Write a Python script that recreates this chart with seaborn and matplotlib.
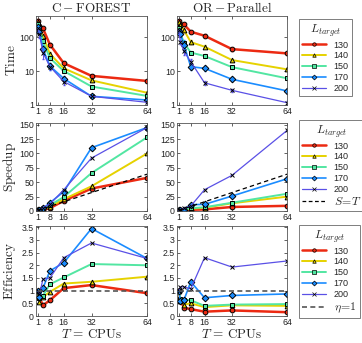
import matplotlib
matplotlib.use("Agg")
import matplotlib.pyplot as plt
import seaborn as sns
from matplotlib.lines import Line2D

# CPU counts and target path lengths
cpus = [1, 2, 4, 8, 16, 32, 64]
targets = ["130", "140", "150", "170", "200"]

# C-FOREST: run time (mean and spread), speedup, efficiency
cf_time = {
    "130": [300, 215, 180, 60, 17, 7.2, 5.1],
    "140": [270, 200, 110, 32, 12, 5.3, 2.3],
    "150": [240, 170, 75, 24, 10, 3.5, 1.85],
    "170": [200, 140, 45, 14, 6, 1.8, 1.4],
    "200": [180, 120, 35, 13.5, 4.9, 1.8, 1.2],
}
cf_err = {
    "130": [30, 20, 15, 6, 1.5, 0.6, 0.4],
    "140": [25, 20, 12, 4, 1.2, 0.5, 0.2],
    "150": [25, 20, 10, 3, 1.0, 0.3, 0.15],
    "170": [20, 20, 12, 3, 1.2, 0.2, 0.12],
    "200": [20, 25, 12, 3, 1.0, 0.2, 0.1],
}
cf_speedup = {
    "130": [1, 1.4, 1.7, 5, 17.6, 39, 57.6],
    "140": [1, 1.1, 3, 7.6, 20.5, 43, 100],
    "150": [1, 1.4, 3.2, 10, 24.3, 66, 128],
    "170": [1, 1.5, 4.4, 14.2, 33.6, 110, 145],
    "200": [1, 1.7, 5.8, 12, 36.8, 92, 145],
}
cf_eff = {
    "130": [1, 0.72, 0.42, 0.62, 1.1, 1.22, 0.9],
    "140": [1, 0.55, 0.75, 0.95, 1.28, 1.35, 1.55],
    "150": [1, 0.7, 0.8, 1.25, 1.52, 2.05, 2.0],
    "170": [1, 0.75, 1.1, 1.78, 2.1, 3.45, 2.27],
    "200": [1, 0.85, 1.45, 1.5, 2.3, 2.88, 2.27],
}

# OR-Parallel: run time (mean and spread), speedup, efficiency
orp_time = {
    "130": [300, 240, 235, 143, 109, 44, 33],
    "140": [270, 230, 160, 71, 52, 21, 11.2],
    "150": [180, 130, 68, 35, 27.6, 13, 6.1],
    "170": [150, 120, 60, 13.4, 12, 5.7, 2.6],
    "200": [165, 72, 38, 18.8, 4.5, 2.7, 1.17],
}
orp_err = {
    "130": [25, 20, 20, 12, 10, 4, 3],
    "140": [25, 20, 15, 8, 5, 2, 1],
    "150": [20, 15, 8, 4, 3, 1.2, 0.5],
    "170": [15, 15, 20, 3, 2, 0.7, 0.3],
    "200": [15, 10, 8, 4, 0.6, 0.3, 0.12],
}
orp_speedup = {
    "130": [1, 1.25, 1.3, 2.1, 2.75, 7, 9],
    "140": [1, 1.2, 1.8, 4, 5.6, 13.4, 25],
    "150": [1, 1.35, 2.6, 5, 6.5, 14.4, 30],
    "170": [1, 1.25, 2.5, 11, 11.5, 26, 56],
    "200": [1, 2.3, 4.6, 8.6, 37, 62, 140],
}
orp_eff = {
    "130": [1, 0.62, 0.33, 0.27, 0.17, 0.22, 0.15],
    "140": [1, 0.6, 0.45, 0.5, 0.35, 0.42, 0.4],
    "150": [1, 0.68, 0.65, 0.62, 0.4, 0.45, 0.47],
    "170": [1, 0.6, 0.62, 1.35, 0.72, 0.81, 0.87],
    "200": [1, 1.15, 1.15, 1.07, 2.3, 1.93, 2.17],
}

# ideal references
ideal_cpus = [1, 64]
ideal_speedup = [1, 64]
ideal_eff = [1, 1]

colors = {"130": "#ec2a12", "140": "#e6d200", "150": "#52e6a2",
          "170": "#1a8cff", "200": "#5a50e6"}
markers = {"130": "o", "140": "^", "150": "s", "170": "D", "200": "x"}
widths = {"130": 1.8, "140": 1.4, "150": 1.4, "170": 1.2, "200": 0.9}

sns.set_style("ticks")
plt.rcParams["font.family"] = ["Liberation Sans", "DejaVu Sans"]
plt.rcParams["mathtext.fontset"] = "cm"
plt.rcParams["xtick.direction"] = "in"
plt.rcParams["ytick.direction"] = "in"
plt.rcParams["xtick.top"] = True
plt.rcParams["ytick.right"] = True

fig = plt.figure(figsize=(3.62, 3.43), dpi=100)

col_left = [36 / 362, 177 / 362]
col_w = [111 / 362, 110 / 362]
row_bottom = [1 - 105 / 343, 1 - 211 / 343, 1 - 316 / 343]
row_h = [89 / 343, 88 / 343, 90 / 343]

panels = [
    [(cf_time, cf_err), (orp_time, orp_err)],
    [(cf_speedup, None), (orp_speedup, None)],
    [(cf_eff, None), (orp_eff, None)],
]

legend_tops = [1 - 19 / 343, 1 - 120 / 343, 1 - 225 / 343]

for r in range(3):
    for c in range(2):
        ax = fig.add_axes([col_left[c], row_bottom[r], col_w[c], row_h[r]])
        data, err = panels[r][c]
        for k in targets:
            if err is not None:
                ax.errorbar(cpus, data[k], yerr=err[k], fmt="none",
                            ecolor=colors[k], elinewidth=0.7, capsize=0.8,
                            zorder=1)
            sns.lineplot(x=cpus, y=data[k], color=colors[k],
                         marker=markers[k], lw=widths[k], markersize=3.4,
                         markeredgecolor="k", markeredgewidth=0.7,
                         ax=ax, zorder=2)
        if r == 1:
            ax.plot(ideal_cpus, ideal_speedup, ls=(0, (3.5, 2.5)), color="k",
                    lw=0.9, zorder=3)
        if r == 2:
            ax.plot(ideal_cpus, ideal_eff, ls=(0, (3, 2)), color="#555555",
                    lw=1.2, zorder=3)

        ax.set_xlim(0, 64)
        ax.set_xticks([1, 8, 16, 32, 64])
        ax.set_xticklabels(["1", "8", "16", "32", "64"])
        if r == 0:
            ax.set_yscale("log")
            ax.set_ylim(1, 415)
            ax.set_yticks([1, 10, 100])
            ax.set_yticklabels(["1", "10", "100"])
            ax.minorticks_off()
        elif r == 1:
            ax.set_ylim(0, 153)
            ax.set_yticks([0, 25, 50, 75, 100, 125, 150])
            ax.set_yticklabels(["0", "25", "50", "75", "100", "125", "150"])
        else:
            ax.set_ylim(0, 3.55)
            ax.set_yticks([0, 0.5, 1, 1.5, 2, 2.5, 3, 3.5])
            ax.set_yticklabels(["0", "0.5", "1", "1.5", "2", "2.5", "3", "3.5"])

        ax.tick_params(labelsize=6.3, length=2, width=0.5, pad=1.5,
                       colors="#222222")
        for s in ax.spines.values():
            s.set_linewidth(0.6)
            s.set_color("#555555")
        ax.set_xlabel("")
        ax.set_ylabel("")

        if r == 0:
            ax.set_title(r"$\mathrm{C-FOREST}$" if c == 0 else
                         r"$\mathrm{OR-Parallel}$", fontsize=9.5, pad=3)
        if r == 2:
            ax.set_xlabel(r"$T\,=\,\mathrm{CPUs}$", fontsize=9.5, labelpad=1)
        if c == 0:
            ax.set_ylabel([r"$\mathrm{Time}$", r"$\mathrm{Speedup}$",
                           r"$\mathrm{Efficiency}$"][r], fontsize=9.5)
            ax.yaxis.set_label_coords(-0.165, 0.5)

        if c == 1:
            handles = [Line2D([], [], color=colors[k], lw=widths[k],
                              marker=markers[k], markersize=2.5,
                              markeredgecolor="k", markeredgewidth=0.5,
                              label=k) for k in targets]
            if r == 1:
                handles.append(Line2D([], [], color="k", lw=0.9,
                                      ls=(0, (3, 2)), label=r"$S\!=\!T$"))
            if r == 2:
                handles.append(Line2D([], [], color="#555555", lw=1.2,
                                      ls=(0, (3, 2)), label=r"$\eta\!=\!1$"))
            leg = ax.legend(handles=handles, title=r"$L_{target}$",
                            loc="upper left",
                            bbox_to_anchor=(299 / 362, legend_tops[r]),
                            bbox_transform=fig.transFigure, fontsize=6.5,
                            title_fontsize=8.5, frameon=True, fancybox=False,
                            edgecolor="#444444", handlelength=2.6,
                            handletextpad=0.9, labelspacing=0.2,
                            borderpad=0.35, borderaxespad=0)
            leg.get_frame().set_linewidth(0.6)
            if r > 0:
                leg.get_texts()[-1].set_fontsize(8.5)

fig.savefig("out.png", dpi=100)
